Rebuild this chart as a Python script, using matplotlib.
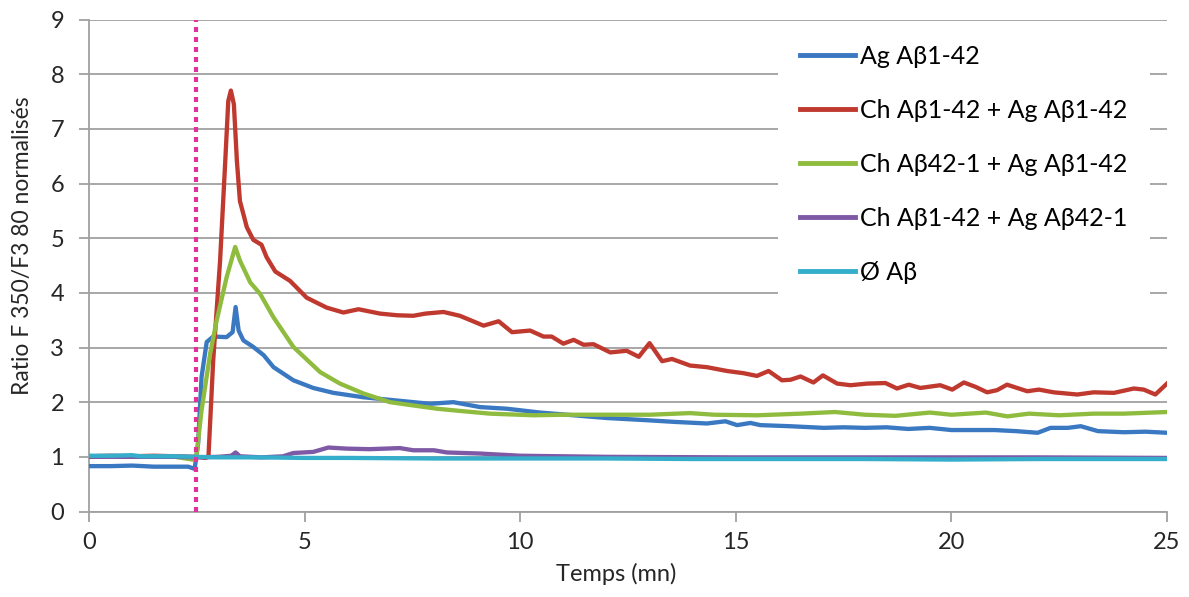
import matplotlib
matplotlib.use('Agg')
from matplotlib import pyplot as plt

plt.rcParams['font.family'] = ['Lato', 'DejaVu Sans']

# Ag Aβ1-42
t_ag = [0, 0.5, 1.0, 1.5, 2.0, 2.3, 2.45, 2.53, 2.61, 2.73, 2.88, 3.19, 3.33, 3.40, 3.47,
        3.58, 3.81, 4.05, 4.28, 4.74, 5.2, 5.67, 6.36, 7.14, 7.91, 8.45, 9.07, 9.69, 10.46,
        11.24, 12.01, 12.94, 13.56, 14.33, 14.76, 15.03, 15.34, 15.57, 16.26, 17.04, 17.5,
        18.0, 18.5, 19.0, 19.5, 20.0, 20.5, 21.0, 21.5, 22.0, 22.3, 22.7, 23.0, 23.4, 24.0,
        24.5, 25.0]
v_ag = [0.83, 0.83, 0.84, 0.82, 0.82, 0.82, 0.78, 1.24, 2.46, 3.10, 3.20, 3.19, 3.28, 3.74, 3.31,
        3.13, 3.01, 2.86, 2.64, 2.40, 2.26, 2.17, 2.09, 2.03, 1.97, 2.00, 1.91, 1.88, 1.81,
        1.76, 1.71, 1.67, 1.64, 1.61, 1.65, 1.58, 1.62, 1.58, 1.56, 1.53, 1.54,
        1.53, 1.54, 1.51, 1.53, 1.49, 1.49, 1.49, 1.47, 1.44, 1.53, 1.53, 1.56, 1.47, 1.45,
        1.46, 1.44]

# Ch Aβ1-42 + Ag Aβ1-42
t_ch_ag = [0, 0.5, 1.0, 1.5, 2.0, 2.5, 2.7, 2.77, 2.88, 3.04, 3.16, 3.23, 3.29, 3.36, 3.43,
           3.5, 3.66, 3.81, 4.0, 4.12, 4.32, 4.66, 5.05, 5.51, 5.9, 6.25, 6.75, 7.14, 7.52,
           7.8, 8.22, 8.6, 9.15, 9.5, 9.81, 10.23, 10.54, 10.73, 11.0, 11.24, 11.47, 11.7,
           12.09, 12.47, 12.75, 13.0, 13.29, 13.52, 13.94, 14.33, 14.8, 15.18, 15.49, 15.76,
           16.07, 16.27, 16.5, 16.8, 17.02, 17.35, 17.66, 18.05, 18.47, 18.74, 19.01, 19.28,
           19.74, 20.02, 20.29, 20.56, 20.83, 21.06, 21.29, 21.76, 22.03, 22.37, 22.92, 23.3,
           23.77, 24.23, 24.46, 24.73, 25.0]
v_ch_ag = [1.01, 1.02, 1.01, 1.02, 1.01, 1.0, 0.98, 1.0, 2.76, 4.59, 6.41, 7.51, 7.70, 7.45, 6.41,
           5.68, 5.2, 4.97, 4.88, 4.65, 4.39, 4.22, 3.91, 3.73, 3.64, 3.70, 3.62, 3.59, 3.58,
           3.62, 3.65, 3.58, 3.40, 3.48, 3.28, 3.31, 3.20, 3.20, 3.07, 3.14, 3.05, 3.06,
           2.91, 2.94, 2.83, 3.08, 2.75, 2.79, 2.67, 2.64, 2.57, 2.53, 2.48, 2.57,
           2.40, 2.41, 2.47, 2.36, 2.49, 2.34, 2.31, 2.34, 2.35, 2.25, 2.32, 2.26,
           2.31, 2.23, 2.36, 2.28, 2.18, 2.22, 2.32, 2.20, 2.23, 2.18, 2.14, 2.18,
           2.17, 2.25, 2.23, 2.14, 2.34]

# Ch Aβ42-1 + Ag Aβ1-42
t_rev_ag = [0, 1, 2, 2.48, 2.61, 2.81, 2.96, 3.19, 3.39, 3.5, 3.74, 3.97, 4.28, 4.74, 5.36,
            5.82, 6.36, 6.98, 7.52, 8.07, 8.6, 9.3, 10.31, 11.0, 12.0, 13.0, 13.94, 14.5,
            15.5, 16.5, 17.3, 18.0, 18.7, 19.5, 20.0, 20.8, 21.3, 21.8, 22.5, 23.3, 24.0, 25.0]
v_rev_ag = [1.01, 1.01, 1.0, 0.94, 1.85, 2.89, 3.49, 4.28, 4.84, 4.59, 4.19, 3.98, 3.55, 3.01, 2.55,
            2.34, 2.16, 2.0, 1.94, 1.88, 1.84, 1.79, 1.76, 1.77, 1.77, 1.77, 1.80, 1.77,
            1.76, 1.79, 1.82, 1.77, 1.75, 1.81, 1.77, 1.81, 1.74, 1.79, 1.76, 1.79, 1.79, 1.82]

# Ch Aβ1-42 + Ag Aβ42-1
t_ch_rev = [0, 1, 2, 2.5, 3.0, 3.3, 3.4, 3.5, 4.0, 4.5, 4.74, 5.2, 5.55, 5.98, 6.5, 7.21,
            7.52, 8.0, 8.3, 9.07, 10, 12, 15, 18, 20, 22, 25]
v_ch_rev = [1.0, 1.0, 1.0, 0.99, 1.0, 1.02, 1.08, 1.01, 0.99, 1.01, 1.07, 1.09, 1.17, 1.15, 1.14, 1.16,
            1.12, 1.12, 1.08, 1.06, 1.02, 1.0, 0.99, 0.99, 0.99, 0.99, 0.98]

# Ø Aβ
t_none = [0, 0.5, 1.0, 1.2, 1.5, 2.0, 2.5, 3, 4, 5, 6, 8, 10, 12, 14, 15, 16, 18, 20, 22, 24, 25]
v_none = [1.02, 1.02, 1.03, 1.01, 1.01, 1.01, 1.0, 0.99, 0.99, 0.98, 0.98, 0.97, 0.97, 0.97,
          0.96, 0.96, 0.96, 0.96, 0.95, 0.96, 0.96, 0.96]

injection_time = 2.47

fig = plt.figure(figsize=(11.89, 5.97), dpi=100)
ax = fig.add_axes([89 / 1189, 1 - 511.5 / 597, (1167 - 89) / 1189, (511.5 - 19.5) / 597])

lw = 3.1
ax.plot(t_ag, v_ag, color='#3a78c2', lw=lw, label='Ag Aβ1-42', zorder=3)
ax.plot(t_ch_ag, v_ch_ag, color='#c0392f', lw=lw, label='Ch Aβ1-42 + Ag Aβ1-42', zorder=3)
ax.plot(t_rev_ag, v_rev_ag, color='#8fbc3f', lw=lw, label='Ch Aβ42-1 + Ag Aβ1-42', zorder=3)
ax.plot(t_ch_rev, v_ch_rev, color='#7e5aa6', lw=lw, label='Ch Aβ1-42 + Ag Aβ42-1', zorder=3)
ax.plot(t_none, v_none, color='#35aecb', lw=lw, label='Ø Aβ', zorder=3)

# injection
ax.axvline(injection_time, color='#e0329a', lw=3.0, linestyle=(0, (1.2, 1.2)), zorder=4)

ax.set_xlim(0, 25)
ax.set_ylim(0, 9)
ax.set_xticks([0, 5, 10, 15, 20, 25])
ax.set_yticks(range(10))
ax.yaxis.grid(True, color='#a0a0a0', lw=1.3)
ax.set_axisbelow(True)

for s in ['top', 'right']:
    ax.spines[s].set_visible(False)
for s in ['left', 'bottom']:
    ax.spines[s].set_color('#a0a0a0')
    ax.spines[s].set_linewidth(1.3)
ax.tick_params(axis='both', colors='#a0a0a0', length=7, width=1.3, labelsize=17,
               labelcolor='#262626')
ax.tick_params(axis='x', pad=8)
ax.tick_params(axis='y', pad=11)

ax.set_xlabel('Temps (mn)', fontsize=17, color='#262626')
ax.set_ylabel('Ratio F 350/F3 80 normalisés', fontsize=16.5, color='#262626')
ax.xaxis.set_label_coords(0.489, -0.105)
ax.yaxis.set_label_coords(-0.052, 0.54)

leg = ax.legend(loc='upper left', bbox_to_anchor=(777.5 / 1189, 1 - 22.3 / 597),
                bbox_transform=fig.transFigure, fontsize=18, frameon=True,
                facecolor='white', edgecolor='none', framealpha=1, fancybox=False,
                handlelength=2.2, handletextpad=0.2, labelspacing=1.24,
                borderpad=0.9, borderaxespad=0)
leg.set_zorder(5)
for line in leg.get_lines():
    line.set_linewidth(3.5)

plt.savefig('out.png', dpi=100)
